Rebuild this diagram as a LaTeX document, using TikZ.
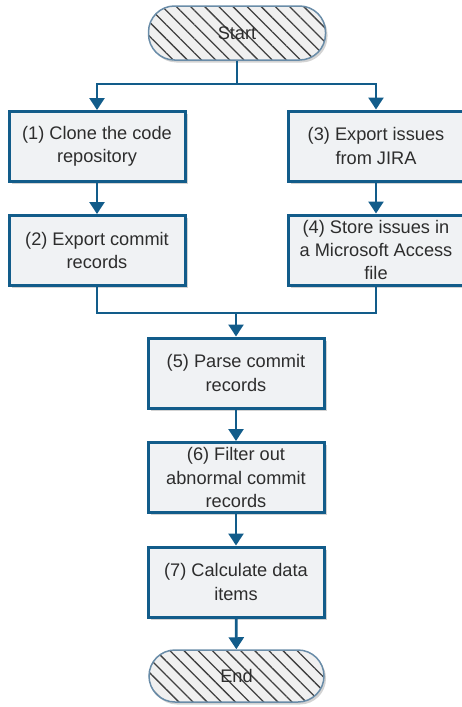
\documentclass[tikz,border=0pt]{standalone}
\usepackage{fontspec}
\setmainfont{Liberation Sans}
\usetikzlibrary{arrows.meta,shadows,patterns.meta}
\definecolor{dblue}{RGB}{18,92,138}
\definecolor{boxfill}{RGB}{240,242,244}
\definecolor{termline}{RGB}{105,140,168}
\definecolor{txt}{RGB}{45,45,45}
\tikzset{
  stepbox/.style={draw=dblue, line width=3pt, fill=boxfill, minimum width=176pt, minimum height=70pt,
    align=center, text=txt, font=\fontsize{18.2pt}{23.3pt}\selectfont, inner sep=1pt,
    drop shadow={shadow xshift=2.5pt, shadow yshift=-2.5pt, opacity=0.35, fill=gray}},
  termbox/.style={draw=termline, line width=1.5pt, rounded corners=26pt, minimum width=177pt, minimum height=54pt,
    text=txt, font=\fontsize{18.2pt}{23.3pt}\selectfont,
    preaction={fill=gray!12, drop shadow={shadow xshift=2pt, shadow yshift=-2.5pt, opacity=0.35, fill=gray}},
    pattern={Lines[angle=-45,distance=10pt,line width=1.3pt]}, pattern color=black!75},
  conn/.style={draw=dblue, line width=2.6pt},
  arr/.style={conn, -{Triangle[width=15pt,length=12pt]}}
}
\begin{document}
\begin{tikzpicture}[x=1pt,y=-1pt]
\useasboundingbox (0,0) rectangle (461,707);
\node[termbox] (start) at (237,33) {Start};
\node[stepbox] (b1) at (97,146.5) {(1) Clone the code\\repository};
\node[stepbox] (b2) at (97,250.5) {(2) Export commit\\records};
\node[stepbox] (b3) at (376,146) {(3) Export issues\\from JIRA};
\node[stepbox] (b4) at (376,250) {(4) Store issues in\\a Microsoft Access\\file};
\node[stepbox] (b5) at (236,373) {(5) Parse commit\\records};
\node[stepbox] (b6) at (236,477.5) {(6) Filter out\\abnormal commit\\records};
\node[stepbox] (b7) at (236,582) {(7) Calculate data\\items};
\node[termbox, minimum width=175pt, minimum height=52pt] (end) at (236.5,676) {End};
\coordinate (j1) at (237,84);
\coordinate (j2) at (236,313);
\draw[conn] (start.south) -- (j1);
\draw[arr] (j1) -| (b1);
\draw[arr] (j1) -| (b3);
\draw[arr] (b1) -- (b2);
\draw[arr] (b3) -- (b4);
\draw[conn] (b2) |- (j2);
\draw[conn] (b4) |- (j2);
\draw[arr] (j2) -- (b5);
\draw[arr] (b5) -- (b6);
\draw[arr] (b6) -- (b7);
\draw[arr] (b7) -- (end);
\end{tikzpicture}
\end{document}
